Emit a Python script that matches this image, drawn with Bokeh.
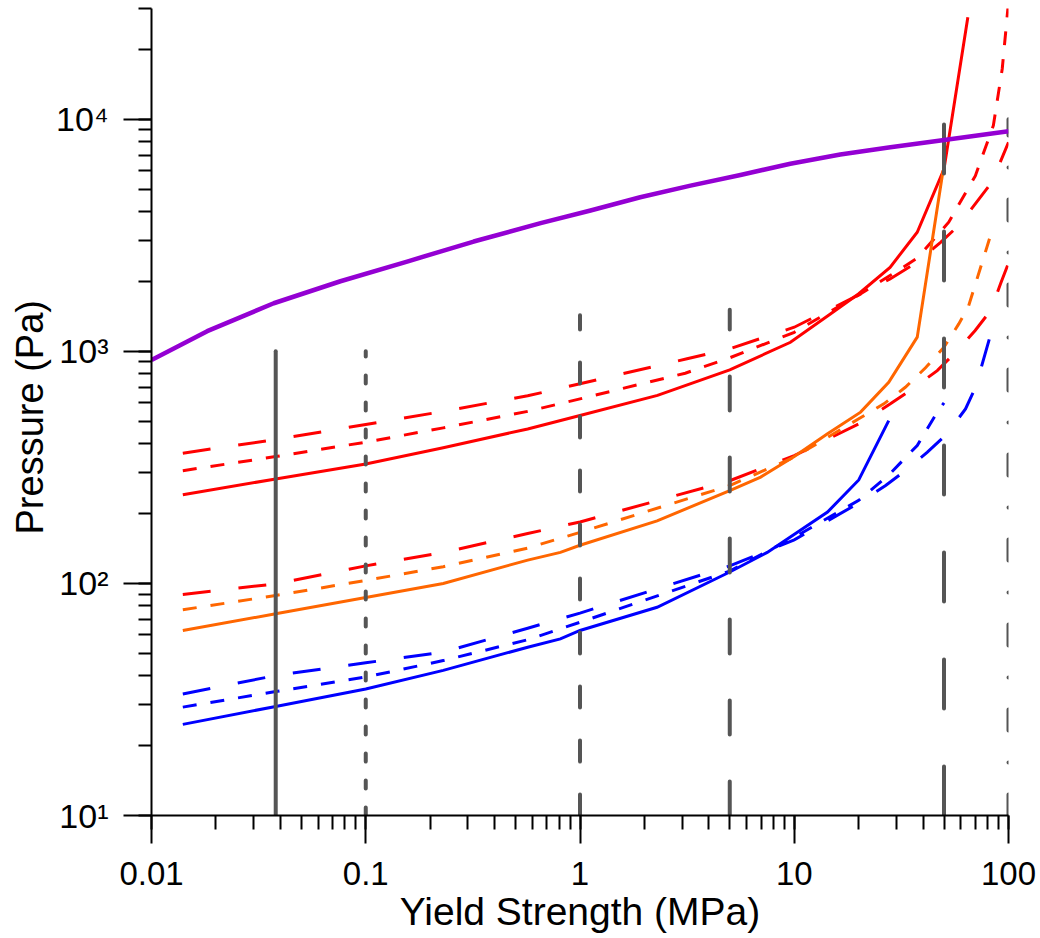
import numpy as np
from bokeh.plotting import figure
from bokeh.models import CustomJSTickFormatter, LogTicker
from bokeh.embed import file_html
from bokeh.resources import INLINE

# ---------------- data ----------------
purple_x = [0.01, 0.0182, 0.0372, 0.0762, 0.156, 0.319, 0.655, 1.12, 1.91, 3.28, 5.61, 9.59, 16.4, 28.1, 48.2, 100]
purple_y = [918, 1221, 1611, 2004, 2437, 2972, 3566, 4045, 4613, 5175, 5752, 6430, 7047, 7570, 8090, 8870]

# top group (red)
red_solid_x = [0.014, 0.038, 0.1, 0.23, 0.57, 1, 2.3, 5, 9.6, 14.8, 20, 28, 37.5, 50, 64.6]
red_solid_y = [241, 282, 327, 384, 463, 529, 646, 832, 1094, 1452, 1770, 2300, 3260, 6100, 27500]
red_short_x = [0.014, 0.038, 0.1, 0.23, 0.57, 1, 3.1, 5, 10, 20, 28, 37.5, 52.6, 70, 85, 93.5, 100]
red_short_y = [306, 352, 406, 468, 551, 624, 805, 938, 1208, 1750, 2120, 2520, 3600, 5700, 9400, 16500, 32000]
red_long_x = [0.014, 0.038, 0.1, 0.23, 0.57, 1, 3.16, 5, 10, 20, 28, 37.5, 48.2, 58.6, 83.7, 100]
red_long_y = [364, 417, 484, 551, 643, 725, 929, 1026, 1270, 1750, 2050, 2420, 2950, 3485, 5357, 7960]

# middle group
mid_red_long_x = [0.014, 0.038, 0.1, 0.23, 0.57, 1, 5, 10, 20, 28.1, 35.6, 46.5, 56.6, 69.9, 82.6, 91.8, 100]
mid_red_long_y = [89.6, 99.6, 119, 136, 164, 184, 277, 355, 487, 594, 689, 826, 990, 1230, 1500, 1954, 2400]
orange_short_x = [0.014, 0.038, 0.1, 0.23, 0.57, 1, 5, 10, 20, 26.2, 33, 41, 50, 58.6, 65, 79.3, 82.4]
orange_short_y = [77, 88.7, 103, 118, 142, 166, 264, 350, 512, 594, 700, 849, 1042, 1313, 1560, 2812, 3155]
orange_solid_x = [0.014, 0.038, 0.1, 0.23, 0.57, 0.81, 1, 2.29, 5, 6.97, 10, 14.3, 20.4, 27.6, 37.5, 49.5]
orange_solid_y = [62.7, 74, 87, 100, 126, 136, 146, 186, 251, 287, 352, 441, 547, 736, 1151, 6010]

# bottom group (blue)
blue_solid_x = [0.014, 0.038, 0.1, 0.23, 0.57, 0.81, 1, 2.29, 5, 7.48, 14.3, 20, 27.6]
blue_solid_y = [24.7, 29.5, 35.1, 42.2, 53.1, 57.7, 62.7, 78.9, 112, 136, 203, 279, 503]
blue_long_x = [0.014, 0.038, 0.1, 0.23, 0.57, 1, 5, 10, 20, 26.7, 33, 41.7, 51.7, 63, 70.2, 82.5]
blue_long_y = [33.4, 40.1, 45.5, 50.6, 64.1, 74.5, 119, 154, 222, 264, 306, 367, 441, 565, 700, 1180]
blue_short_x = [0.014, 0.038, 0.1, 0.23, 0.57, 1, 5, 10, 20, 27.6, 37.5, 46.5, 50]
blue_short_y = [29.3, 34.2, 39.5, 46.5, 57.2, 68, 113, 158, 228, 293, 393, 547, 600]

# vertical reference lines
vline_x = [0.038, 0.1, 1, 5, 50, 100]
vline_top = [1000, 1000, 1430, 1510, 10000, 10000]
vline_bottom = 10

x_tick_labels = ["0.01", "0.1", "1", "10", "100"]
y_tick_labels = ["10\u00b9", "10\u00b2", "10\u00b3", "10\u2074"]

# ---------------- styles ----------------
FONT = "Liberation Sans"
RED, ORANGE, BLUE, PURPLE, GRAY = "#ff0000", "#ff6600", "#0000ff", "#9400d3", "#555555"
SHORT, LONG = "14 14", "28 28"
vline_dash = ["solid", "8 19", "21 33", "34 47", "49 58", "21 32 0 32"]

p = figure(x_axis_type="log", y_axis_type="log", x_range=(0.01, 100), y_range=(10, 30000),
           frame_width=857, frame_height=807, output_backend="svg", toolbar_location=None,
           min_border_left=151, min_border_right=32, min_border_top=8, min_border_bottom=123)
p.outline_line_color = None
p.xgrid.visible = False
p.ygrid.visible = False
p.background_fill_color = "white"
p.border_fill_color = "white"

for ax in (p.xaxis, p.yaxis):
    ax.axis_line_width = 2
    ax.axis_line_color = "black"
    ax.major_tick_line_width = 2
    ax.minor_tick_line_width = 2
    ax.major_tick_line_color = "black"
    ax.minor_tick_line_color = "black"
    ax.major_tick_in = 0
    ax.minor_tick_in = 0
    ax.major_tick_out = 28
    ax.minor_tick_out = 14
    ax.ticker = LogTicker(num_minor_ticks=10)
    ax.major_label_text_font = FONT
    ax.major_label_text_color = "black"
    ax.axis_label_text_font = FONT
    ax.axis_label_text_font_style = "normal"
    ax.axis_label_text_color = "black"

p.xaxis.formatter = CustomJSTickFormatter(args=dict(labels=x_tick_labels),
    code="var i = Math.round(Math.log10(tick)) + 2; return labels[i];")
p.xaxis.major_label_text_font_size = "33px"
p.xaxis.major_label_standoff = 18
p.xaxis.axis_label = "Yield Strength (MPa)"
p.xaxis.axis_label_text_font_size = "39px"
p.xaxis.axis_label_standoff = 2

p.yaxis.minor_tick_out = 13
p.yaxis.formatter = CustomJSTickFormatter(args=dict(labels=y_tick_labels),
    code="var i = Math.round(Math.log10(tick)) - 1; return labels[i];")
p.yaxis.major_label_text_font_size = "34px"
p.yaxis.major_label_standoff = 15
p.yaxis.axis_label = "Pressure  (Pa)"
p.yaxis.axis_label_text_font_size = "38px"
p.yaxis.axis_label_standoff = 2

# colored curves
def curve(x, y, color, dash="solid", width=3):
    p.line(x, y, line_color=color, line_width=width, line_dash=dash, line_cap="butt", line_join="miter")

curve(red_long_x, red_long_y, RED, LONG)
curve(red_short_x, red_short_y, RED, SHORT)
curve(red_solid_x, red_solid_y, RED)
curve(mid_red_long_x, mid_red_long_y, RED, LONG)
curve(orange_short_x, orange_short_y, ORANGE, SHORT)
curve(orange_solid_x, orange_solid_y, ORANGE)
curve(blue_long_x, blue_long_y, BLUE, LONG)
curve(blue_short_x, blue_short_y, BLUE, SHORT)
curve(blue_solid_x, blue_solid_y, BLUE)

for xv, top, dash in zip(vline_x, vline_top, vline_dash):
    p.line([xv, xv], [vline_bottom, top], line_color=GRAY, line_width=4, line_dash=dash, line_cap="round")

p.line(purple_x, purple_y, line_color=PURPLE, line_width=4.5, line_join="round")

open("out.html", "w").write(file_html(p, INLINE))
